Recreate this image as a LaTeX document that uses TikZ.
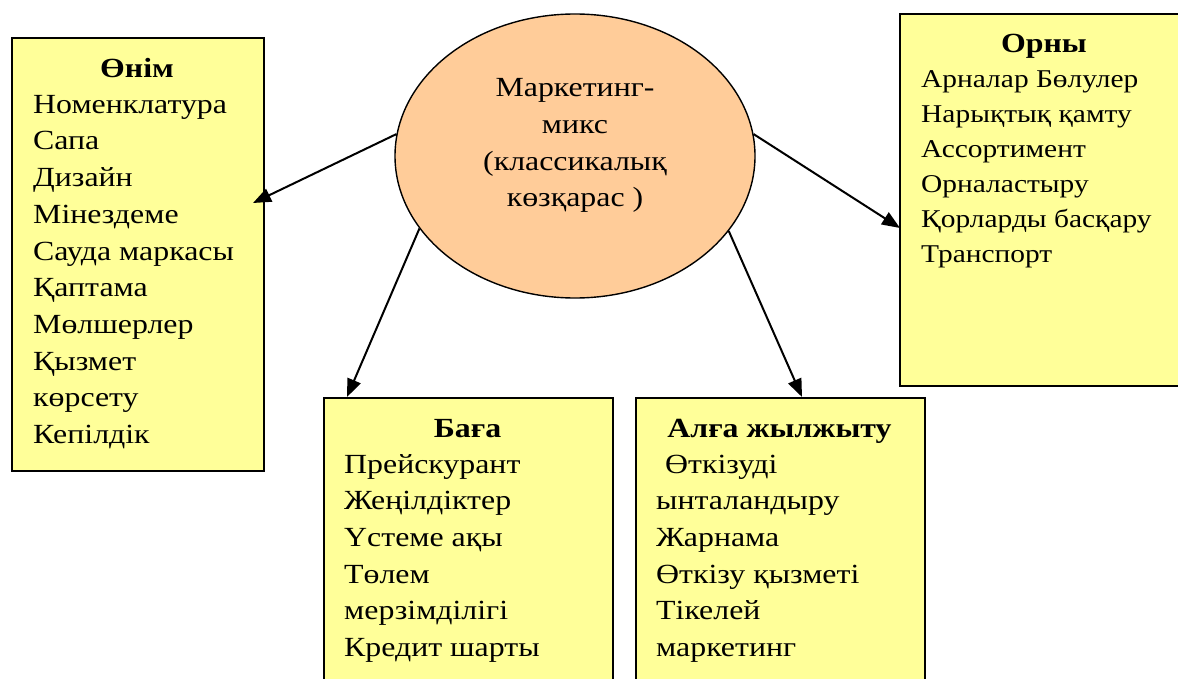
\documentclass[tikz,border=0pt]{standalone}
\usepackage{fontspec}
\setmainfont{Liberation Serif}[FakeStretch=1.15]
\usepackage{xcolor}
\usetikzlibrary{arrows.meta,shapes.geometric}

\definecolor{boxyellow}{HTML}{FFFF99}
\definecolor{mixpeach}{HTML}{FFCC99}

\begin{document}
\begin{tikzpicture}[x=1pt,y=-1pt,
  box/.style={draw,line width=1.8pt,fill=boxyellow,anchor=north west,inner sep=0pt},
  mixell/.style={ellipse,draw,line width=1.4pt,fill=mixpeach,inner sep=0pt,
    minimum width=360pt,minimum height=284pt},
  txt/.style={font=\fontsize{27.7}{36.7}\selectfont,inner sep=0pt},
  items/.style={txt,align=left,anchor=base west},
  head/.style={txt,font=\fontsize{27.7}{36.7}\selectfont\bfseries,anchor=base},
  arr/.style={line width=2pt,-{Triangle[length=18pt,width=14pt]}}]
  \useasboundingbox (0,0) rectangle (1178,679);
  \clip (0,0) rectangle (1178,679);

  % centre (multi-line nodes sit on the baseline of their last line)
  \node[mixell] (mix) at (575,156) {};
  \node[txt,align=center,anchor=base] (mixtext) at (575,207)
    {Маркетинг-\\микс\\(классикалық\\көзқарас )};

  % boxes
  \node[box,minimum width=252pt,minimum height=433pt] (product) at (11,37) {};
  \node[box,minimum width=290pt,minimum height=372pt] (place) at (899,13) {};
  \node[box,minimum width=289pt,minimum height=320pt] (price) at (323,397) {};
  \node[box,minimum width=289pt,minimum height=320pt] (promo) at (635,397) {};

  \node[head] (producthead) at (137,78) {Өнім};
  \node[items] (productlist) at (33,443.5)
    {Номенклатура\\Сапа\\Дизайн\\Мінездеме\\Сауда маркасы\\Қаптама\\Мөлшерлер\\Қызмет\\көрсету\\Кепілдік};

  \node[head] (placehead) at (1044,53) {Орны};
  \node[items,font=\fontsize{25.6}{35}\selectfont] (placelist) at (921,262)
    {Арналар Бөлулер\\Нарықтық қамту\\Ассортимент\\Орналастыру\\Қорларды басқару\\Транспорт};

  \node[head] (pricehead) at (467.5,437) {Баға};
  \node[items] (pricelist) at (344,656.5)
    {Прейскурант\\Жеңілдіктер\\Үстеме ақы\\Төлем\\мерзімділігі\\Кредит шарты};

  \node[head] (promohead) at (779.5,437) {Алға жылжыту};
  \node[items] (promolist) at (656,656.5)
    {\hspace*{9pt}Өткізуді\\ынталандыру\\Жарнама\\Өткізу қызметі\\Тікелей\\маркетинг};

  % arrows
  \coordinate (productin) at (253,203);
  \coordinate (placein) at (900,228);
  \coordinate (pricein) at (347,397);
  \coordinate (promoin) at (802,397);
  \draw[arr] (mix.173) -- (productin);
  \draw[arr] (mix.7) -- (placein);
  \draw[arr] (mix.205.4) -- (pricein);
  \draw[arr] (mix.334.6) -- (promoin);
\end{tikzpicture}
\end{document}
